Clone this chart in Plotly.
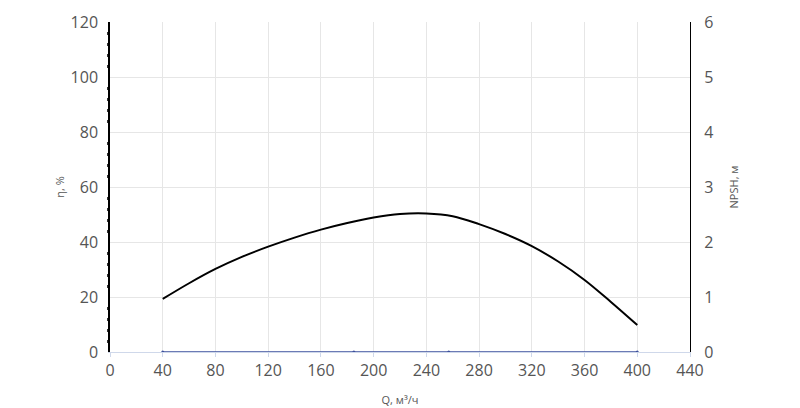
import plotly.graph_objects as go

# КПД насоса
q_eta = [40, 60, 80, 100, 120, 140, 160, 180, 200, 220, 240, 260, 280, 300, 320, 340, 360, 380, 400]
eta = [19.3, 25.0, 30.2, 34.6, 38.3, 41.6, 44.5, 46.9, 48.9, 50.2, 50.4, 49.4, 46.5, 42.9, 38.5, 32.9, 26.2, 18.2, 9.8]

# NPSH
q_npsh = [40, 185, 257, 400]
npsh = [0, 0, 0, 0]

grid = "#e6e6e6"
text_col = "#555555"

fig = go.Figure()
fig.add_trace(go.Scatter(x=q_eta, y=eta, mode="lines",
                         line=dict(color="black", width=2, shape="spline", smoothing=1),
                         name="η", yaxis="y"))
fig.add_trace(go.Scatter(x=q_npsh, y=npsh, mode="lines+markers", line=dict(color="#3b4f9c", width=1.5),
                         marker=dict(size=3, color="#3b4f9c"), name="NPSH", yaxis="y2"))

# страница добавляет отступ 8px, поэтому поля сдвинуты
fig.update_layout(
    width=800, height=408,
    margin=dict(l=102, r=118, t=14, b=64),
    plot_bgcolor="white", paper_bgcolor="white",
    showlegend=False,
    font=dict(family="Open Sans", color=text_col),
    xaxis=dict(range=[0, 440], dtick=40, tick0=0, gridcolor=grid, showline=True, linecolor="#cfd8ea",
               ticks="outside", ticklen=4, tickcolor="#cfd8ea", zeroline=False, automargin=False,
               tickfont=dict(size=16), title=dict(text="Q, м³/ч", font=dict(size=11), standoff=16)),
    yaxis=dict(range=[0, 120], dtick=20, gridcolor=grid, showline=True, linecolor="black", linewidth=1.5,
               zeroline=False, tickfont=dict(size=16), automargin=False, ticklabelstandoff=7,
               minor=dict(ticks="outside", ticklen=1, tickwidth=3, dtick=4, tickcolor="#333333", showgrid=False),
               title=dict(text="η, %", font=dict(size=11), standoff=4)),
    yaxis2=dict(range=[0, 6], dtick=1, overlaying="y", side="right", showgrid=False, showline=True,
                linecolor="black", linewidth=1, zeroline=False, tickfont=dict(size=16), automargin=False,
                ticklabelstandoff=10,
                title=dict(text="NPSH, м", font=dict(size=11), standoff=17)),
)

fig.write_html("out.html")
